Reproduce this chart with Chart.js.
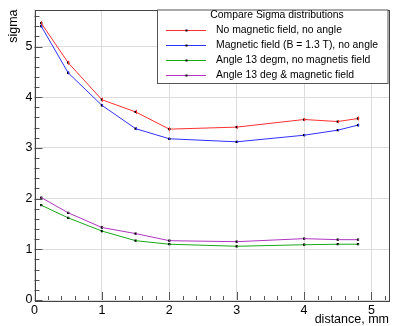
<!DOCTYPE html>
<html>
<head>
<meta charset="utf-8">
<script src="https://cdn.jsdelivr.net/npm/chart.js@4/dist/chart.umd.min.js"></script>
<style>
  html, body { margin: 0; padding: 0; background: #fff; }
</style>
</head>
<body>
<canvas id="chart" width="393" height="326"></canvas>
<script>
// distance in mm
const distance = [0.1, 0.5, 1, 1.5, 2, 3, 4, 4.5, 4.8];

// sigma values per configuration
const noFieldNoAngle  = [5.46, 4.68, 3.95, 3.71, 3.37, 3.41, 3.56, 3.52, 3.58];
const fieldNoAngle    = [5.40, 4.48, 3.84, 3.38, 3.18, 3.12, 3.25, 3.35, 3.45];
const angleNoField    = [1.87, 1.62, 1.36, 1.17, 1.10, 1.06, 1.09, 1.10, 1.10];
const angleAndField   = [2.02, 1.72, 1.43, 1.31, 1.17, 1.15, 1.21, 1.19, 1.19];

// error bars (approx)
const errNoFieldNoAngle = [0.04, 0.04, 0.04, 0.04, 0.04, 0.03, 0.03, 0.03, 0.04];
const errFieldNoAngle   = [0.03, 0.03, 0.02, 0.03, 0.02, 0.02, 0.02, 0.02, 0.03];
const errAngleNoField   = [0.01, 0.01, 0.01, 0.01, 0.01, 0.01, 0.01, 0.01, 0.01];
const errAngleAndField  = [0.01, 0.01, 0.01, 0.01, 0.01, 0.01, 0.01, 0.01, 0.01];

const legendTitle = 'Compare Sigma distributions';
const xTitle = 'distance, mm';
const yTitle = 'sigma';

const FONT = '"Liberation Sans", Arial, Helvetica, sans-serif';

function series(label, ys, errs, color){
  return {
    label: label,
    data: distance.map((x,i)=>({x:x, y:ys[i]})),
    errs: errs,
    borderColor: color,
    borderWidth: 1,
    backgroundColor: '#000',
    pointStyle: 'rect',
    pointRadius: 1.6,
    pointBorderWidth: 0,
    pointBackgroundColor: '#000',
    tension: 0
  };
}

// error bars drawn through the scales
const errorBars = {
  id: 'errorBars',
  afterDatasetsDraw(chart){
    const ctx = chart.ctx, xs = chart.scales.x, ys = chart.scales.y;
    chart.data.datasets.forEach(ds=>{
      ctx.save();
      ctx.strokeStyle = ds.borderColor;
      ctx.lineWidth = 1;
      ds.data.forEach((p,i)=>{
        const e = ds.errs[i];
        const px = Math.round(xs.getPixelForValue(p.x)) + 0.5;
        ctx.beginPath();
        ctx.moveTo(px, ys.getPixelForValue(p.y - e));
        ctx.lineTo(px, ys.getPixelForValue(p.y + e));
        ctx.stroke();
      });
      ctx.restore();
    });
  }
};

// ROOT style inward ticks, major + minor
const rootTicks = {
  id: 'rootTicks',
  afterDraw(chart){
    const ctx = chart.ctx, xs = chart.scales.x, ys = chart.scales.y;
    const a = chart.chartArea;
    ctx.save();
    ctx.strokeStyle = '#555';
    ctx.lineWidth = 1;
    ctx.beginPath();
    for(let v = 0; v <= xs.max + 1e-9; v += 0.2){
      const px = Math.round(xs.getPixelForValue(v)) + 0.5;
      const major = Math.abs(v - Math.round(v)) < 1e-6;
      ctx.moveTo(px, a.bottom);
      ctx.lineTo(px, a.bottom - (major ? 8 : 4));
    }
    for(let v = 0; v <= ys.max + 1e-9; v += 0.2){
      const py = Math.round(ys.getPixelForValue(v)) + 0.5;
      const major = Math.abs(v - Math.round(v)) < 1e-6;
      ctx.moveTo(a.left, py);
      ctx.lineTo(a.left + (major ? 8 : 5), py);
    }
    ctx.stroke();
    // frame
    ctx.strokeStyle = '#444';
    ctx.strokeRect(Math.round(a.left)+0.5, Math.round(a.top)+0.5, Math.round(a.right-a.left)-1, Math.round(a.bottom-a.top));
    ctx.restore();
  }
};

// boxed legend in top right corner
const boxLegend = {
  id: 'boxLegend',
  afterDraw(chart){
    const ctx = chart.ctx, a = chart.chartArea;
    const x0 = 157.5, y0 = a.top + 0.5, x1 = a.right - 1, y1 = 83.5;
    ctx.save();
    ctx.fillStyle = '#fff';
    ctx.fillRect(x0, y0, x1-x0, y1-y0);
    ctx.strokeStyle = '#555';
    ctx.lineWidth = 1;
    ctx.strokeRect(x0, y0, x1-x0, y1-y0);
    ctx.fillStyle = '#000';
    ctx.font = '10.4px ' + FONT;
    ctx.textBaseline = 'middle';
    ctx.textAlign = 'center';
    ctx.fillText(legendTitle, 277, 15.5);
    ctx.textAlign = 'left';
    chart.data.datasets.forEach((ds,i)=>{
      const y = 30.5 + i*15;
      ctx.strokeStyle = ds.borderColor;
      ctx.lineWidth = 1;
      ctx.beginPath();
      ctx.moveTo(166, y);
      ctx.lineTo(206, y);
      ctx.stroke();
      ctx.fillStyle = '#000';
      ctx.fillRect(185.5, y-1, 2, 2);
      ctx.fillText(ds.label, 216, y);
    });
    ctx.restore();
  }
};

new Chart(document.getElementById('chart'), {
  type: 'line',
  data: {
    datasets: [
      series('No magnetic field, no angle', noFieldNoAngle, errNoFieldNoAngle, '#ff3030'),
      series('Magnetic field (B = 1.3 T), no angle', fieldNoAngle, errFieldNoAngle, '#3030ff'),
      series('Angle 13 degm, no magnetis field', angleNoField, errAngleNoField, '#18a818'),
      series('Angle 13 deg & magnetic field', angleAndField, errAngleAndField, '#b035c0')
    ]
  },
  options: {
    responsive: false,
    animation: false,
    layout: { padding: { top: 7, right: 2, left: 0, bottom: 0 } },
    plugins: { legend: { display: false }, tooltip: { enabled: false } },
    scales: {
      x: {
        type: 'linear',
        min: 0, max: 5.26,
        border: { display: false },
        grid: { color: '#dcdcdc', drawTicks: false },
        ticks: { stepSize: 1, includeBounds: false, padding: 3, color: '#000',
                 font: { family: FONT, size: 12.5 } },
        title: { display: true, text: xTitle, align: 'end', color: '#000',
                 font: { family: FONT, size: 12.5 }, padding: { top: 0, bottom: -1 } },
        afterFit(s){ s.height = 26; }
      },
      y: {
        type: 'linear',
        min: 0, max: 5.73,
        border: { display: false },
        grid: { color: '#dcdcdc', drawTicks: false },
        ticks: { stepSize: 1, includeBounds: false, padding: 2, color: '#000',
                 font: { family: FONT, size: 12.5 } },
        title: { display: true, text: yTitle, align: 'end', color: '#000',
                 font: { family: FONT, size: 12.5 }, padding: { top: 6, bottom: 0 } },
        afterFit(s){ s.width = 34.5; }
      }
    }
  },
  plugins: [errorBars, rootTicks, boxLegend]
});
</script>
</body>
</html>
